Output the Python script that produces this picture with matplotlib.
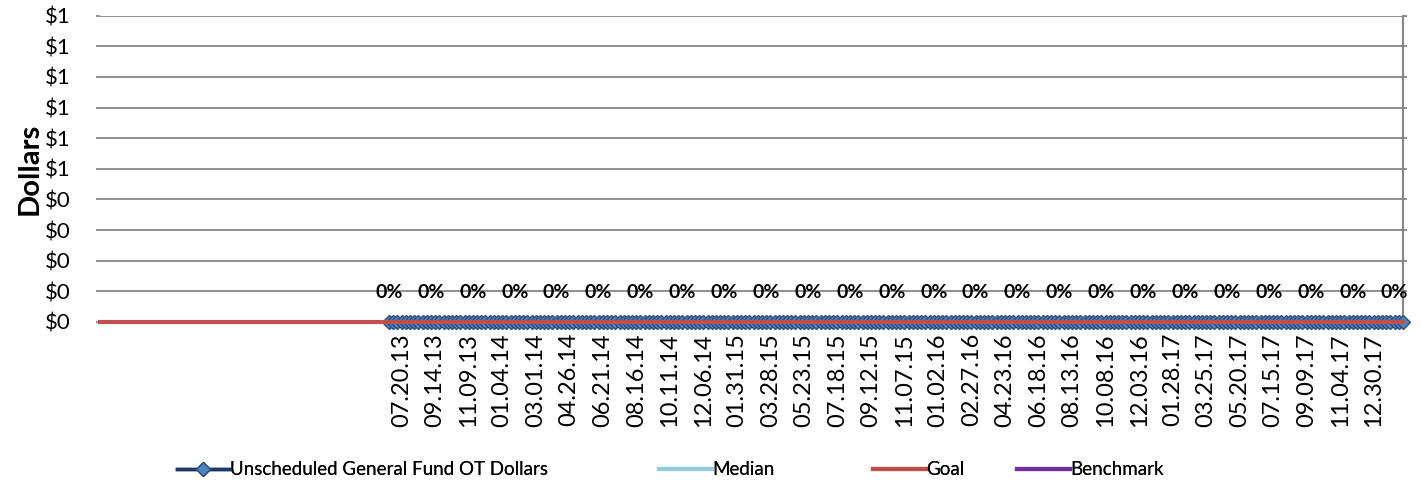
import numpy as np
import pandas as pd
import matplotlib
matplotlib.use("Agg")
import matplotlib.pyplot as plt
from matplotlib.ticker import FuncFormatter

plt.rcParams['font.family'] = ['Lato', 'DejaVu Sans']

# category axis: 69 empty slots, then weekly pay periods
n_blank = 69
dates = pd.date_range("2013-06-29", periods=243, freq="7D")
categories = [""] * n_blank + [d.strftime("%m.%d.%y") for d in dates]

# series values (all read as $0)
ot_dollars = [0] * len(dates)
goal = [0] * len(categories)
median = [np.nan] * len(categories)
benchmark = [np.nan] * len(categories)
pct_label = "0%"

n = len(categories)
x_all = np.arange(n)
x_ot = np.arange(n_blank, n)

fig = plt.figure(figsize=(14.22, 4.91), dpi=100)
ax = fig.add_axes([100 / 1422, 1 - 322 / 491, 1303 / 1422, (322 - 15.7) / 491])

l1, = ax.plot(x_ot, ot_dollars, color="#1F3864", lw=2.5, marker="D", ms=7,
              mfc="#4F81BD", mec="#2C4F7C", mew=1, clip_on=False, zorder=3)
l2, = ax.plot(x_all, median, color="#93CDDD", lw=3)
l3, = ax.plot(x_all, goal, color="#C0504D", lw=3, clip_on=False, zorder=4)
l4, = ax.plot(x_all, benchmark, color="#7030A0", lw=3)

# percent labels on every 10th point
for i in range(0, len(x_ot), 10):
    ax.annotate(pct_label, (x_ot[i], ot_dollars[i]), xytext=(0, 21),
                textcoords="offset points", ha="center", va="center",
                fontsize=14, fontweight="bold", zorder=5)

ax.set_xlim(0, n - 1)
ax.set_ylim(0, 1)
ax.set_yticks(np.arange(0, 1.01, 0.1))
ax.yaxis.set_major_formatter(FuncFormatter(lambda v, p: "$%d" % int(np.floor(v + 0.5 + 1e-9))))
ax.grid(axis="y", color="#868686", lw=1.3)
ax.set_axisbelow(True)

ticks = list(range(0, n, 8))
ax.set_xticks(ticks)
ax.set_xticklabels([categories[t] for t in ticks], rotation=90, fontsize=17)
ax.tick_params(axis="x", length=0, pad=8)
ax.tick_params(axis="y", labelsize=16, length=3, color="#868686", width=1.3,
               pad=18, right=True)

for s in ["top", "left", "bottom"]:
    ax.spines[s].set_visible(False)
ax.spines["right"].set_color("#868686")
ax.spines["right"].set_linewidth(1.5)

ax.set_ylabel("Dollars", fontsize=21, fontweight="bold", labelpad=2)

# legend entries placed one by one, like the Excel layout
entries = [(l1, "Unscheduled General Fund OT Dollars", 177),
           (l2, "Median", 659),
           (l3, "Goal", 873),
           (l4, "Benchmark", 1017)]
for h, name, px in entries:
    leg = fig.legend([h], [name], loc="center left", bbox_to_anchor=(px / 1422, 0.043),
                     frameon=False, fontsize=13.5, handlelength=2.8,
                     handletextpad=0.05, borderaxespad=0, borderpad=0)
    fig.add_artist(leg)

fig.savefig("out.png", dpi=100)
